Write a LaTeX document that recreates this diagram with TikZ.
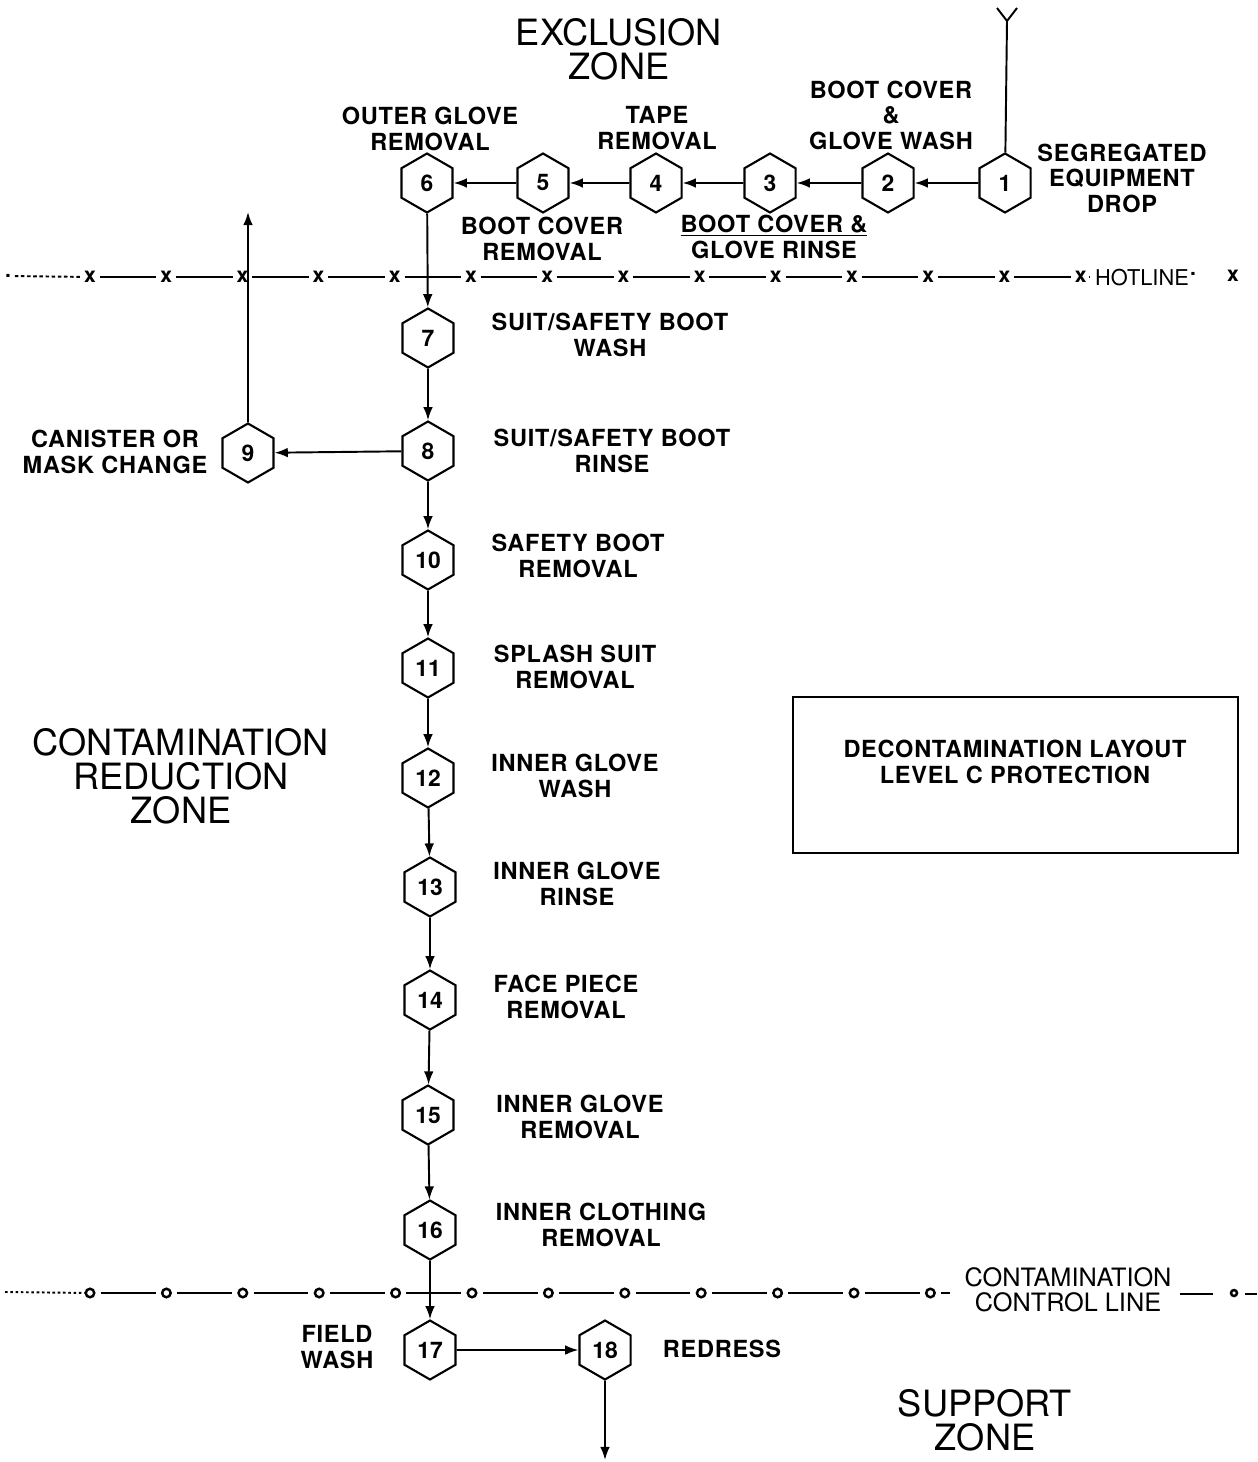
\documentclass[tikz,border=0pt]{standalone}
\usepackage{fontspec}
\setmainfont{TeX Gyre Heros}
\usetikzlibrary{shapes.geometric,arrows.meta}
\newcommand{\lbl}{\bfseries\fontsize{13.4}{14.5}\selectfont\addfontfeature{LetterSpace=3}}
\newcommand{\zonefont}{\fontsize{20.6}{19.4}\selectfont}
\newcommand{\linefont}{\fontsize{14.4}{14.5}\selectfont}

\begin{document}
\begin{tikzpicture}[x=0.02cm,y=-0.02cm,
  hexa/.style={draw,regular polygon,regular polygon sides=6,shape border rotate=30,
    minimum size=1.18cm,inner sep=0pt,line width=1.2pt,font=\bfseries\fontsize{13}{13}\selectfont},
  flow/.style={line width=1.1pt,-{Latex[length=7.5pt,width=5.5pt]}},
  lab/.style={align=center,font=\lbl,inner sep=0pt},
  zone/.style={align=center,font=\zonefont,inner sep=0pt},
  hmark/.style={font=\bfseries\fontsize{12}{12}\selectfont,inner sep=2pt},
  cmark/.style={draw,circle,line width=1.4pt,minimum size=0.17cm,inner sep=0pt},
  rule/.style={line width=1.1pt}]

\useasboundingbox (0,0) rectangle (1257,1462);

% zones
\node[zone] (excl) at (619,49) {EXCLUSION\\ZONE};
\node[zone] (crz) at (181,776) {CONTAMINATION\\REDUCTION\\ZONE};
\node[zone] (supp) at (985,1420) {SUPPORT\\ZONE};

% hotline
\foreach \i in {0,...,13}
  \node[hmark] (hx\i) at ({90+76.2*\i},277) {x};
\foreach \i [evaluate=\i as \j using int(\i+1)] in {0,...,12}
  \draw[rule] (hx\i) -- (hx\j);
\node[hmark] (hdot) at (8,276) {.};
\draw[rule,dash pattern=on 2pt off 1.5pt] (hdot) -- (hx0);
\node[inner sep=0pt,font=\fontsize{12.4}{13}\selectfont] (hot) at (1142,278) {HOTLINE};
\draw[rule] (hx13) -- ++(8,0);
\node[hmark] (hdot2) at (1193,274) {.};
\node[hmark] (hend) at (1233,276) {x};

% contamination control line
\foreach \i in {0,...,11}
  \node[cmark] (co\i) at ({90+76.4*\i},1293) {};
\foreach \i [evaluate=\i as \j using int(\i+1)] in {0,...,10}
  \draw[rule,shorten <=3pt,shorten >=3pt] (co\i) -- (co\j);
\coordinate (cstart) at (5,1292);
\draw[rule,dash pattern=on 1.5pt off 1.5pt] (cstart) -- (co0);
\node[inner sep=0pt,align=center,font=\linefont] (ccl) at (1068,1290) {CONTAMINATION\\CONTROL LINE};
\draw[rule,shorten <=3pt] (co11) -- ++(20,0);
\draw[rule] (1180,1294) -- (1213,1294);
\node[cmark,minimum size=0.12cm] (cend) at (1234,1293) {};
\draw[rule] (1245,1294) -- (1257,1294);

% stations
\node[hexa] (n1) at (1005,183) {1};
\node[hexa] (n2) at (888,183) {2};
\node[hexa] (n3) at (770,183) {3};
\node[hexa] (n4) at (656,183) {4};
\node[hexa] (n5) at (543,183) {5};
\node[hexa] (n6) at (427,183) {6};
\node[hexa] (n7) at (428,338) {7};
\node[hexa] (n8) at (428,451) {8};
\node[hexa] (n9) at (248,453) {9};
\node[hexa] (n10) at (428,560) {10};
\node[hexa] (n11) at (428,668) {11};
\node[hexa] (n12) at (428,778) {12};
\node[hexa] (n13) at (430,887) {13};
\node[hexa] (n14) at (430,1000) {14};
\node[hexa] (n15) at (428,1115) {15};
\node[hexa] (n16) at (430,1230) {16};
\node[hexa] (n17) at (430,1350) {17};
\node[hexa] (n18) at (605,1350) {18};

% labels
\node[lab] (l1) at (1122,178) {SEGREGATED\\EQUIPMENT\\DROP};
\node[lab] (l2) at (891,115) {BOOT COVER\\\&\\GLOVE WASH};
\node[lab] (l3) at (774,237) {\underline{BOOT COVER \&}\\GLOVE RINSE};
\node[lab] (l4) at (657,128) {TAPE\\REMOVAL};
\node[lab] (l5) at (542,239) {BOOT COVER\\REMOVAL};
\node[lab] (l6) at (430,129) {OUTER GLOVE\\REMOVAL};
\node[lab] (l7) at (610,335) {SUIT/SAFETY BOOT\\WASH};
\node[lab] (l8) at (612,451) {SUIT/SAFETY BOOT\\RINSE};
\node[lab] (l9) at (115,452) {CANISTER OR\\MASK CHANGE};
\node[lab] (l10) at (578,556) {SAFETY BOOT\\REMOVAL};
\node[lab] (l11) at (575,667) {SPLASH SUIT\\REMOVAL};
\node[lab] (l12) at (575,776) {INNER GLOVE\\WASH};
\node[lab] (l13) at (577,884) {INNER GLOVE\\RINSE};
\node[lab] (l14) at (566,997) {FACE PIECE\\REMOVAL};
\node[lab] (l15) at (580,1117) {INNER GLOVE\\REMOVAL};
\node[lab] (l16) at (601,1225) {INNER CLOTHING\\REMOVAL};
\node[lab] (l17) at (337,1347) {FIELD\\WASH};
\node[lab] (l18) at (722,1349) {REDRESS};

% entry
\coordinate (entry) at (1007,21);
\draw[line width=1.1pt] (entry) -- (n1);
\draw[line width=1.1pt] (997,8) -- (entry) -- (1017,8);

% flow
\draw[flow] (n1) -- (n2);
\draw[flow] (n2) -- (n3);
\draw[flow] (n3) -- (n4);
\draw[flow] (n4) -- (n5);
\draw[flow] (n5) -- (n6);
\draw[flow] (n6) -- (n7);
\draw[flow] (n7) -- (n8);
\draw[flow] (n8) -- (n9);
\coordinate (out9) at (248,212);
\draw[flow] (n9) -- (out9);
\foreach \a/\b in {8/10,10/11,11/12,12/13,13/14,14/15,15/16,16/17,17/18}
  \draw[flow] (n\a) -- (n\b);
\coordinate (out18) at (605,1460);
\draw[flow] (n18) -- (out18);

% title box
\draw[line width=1.2pt] (793,697) rectangle (1238,853);
\node[lab] (title) at (1015,762) {DECONTAMINATION LAYOUT\\LEVEL C PROTECTION};

\end{tikzpicture}
\end{document}
